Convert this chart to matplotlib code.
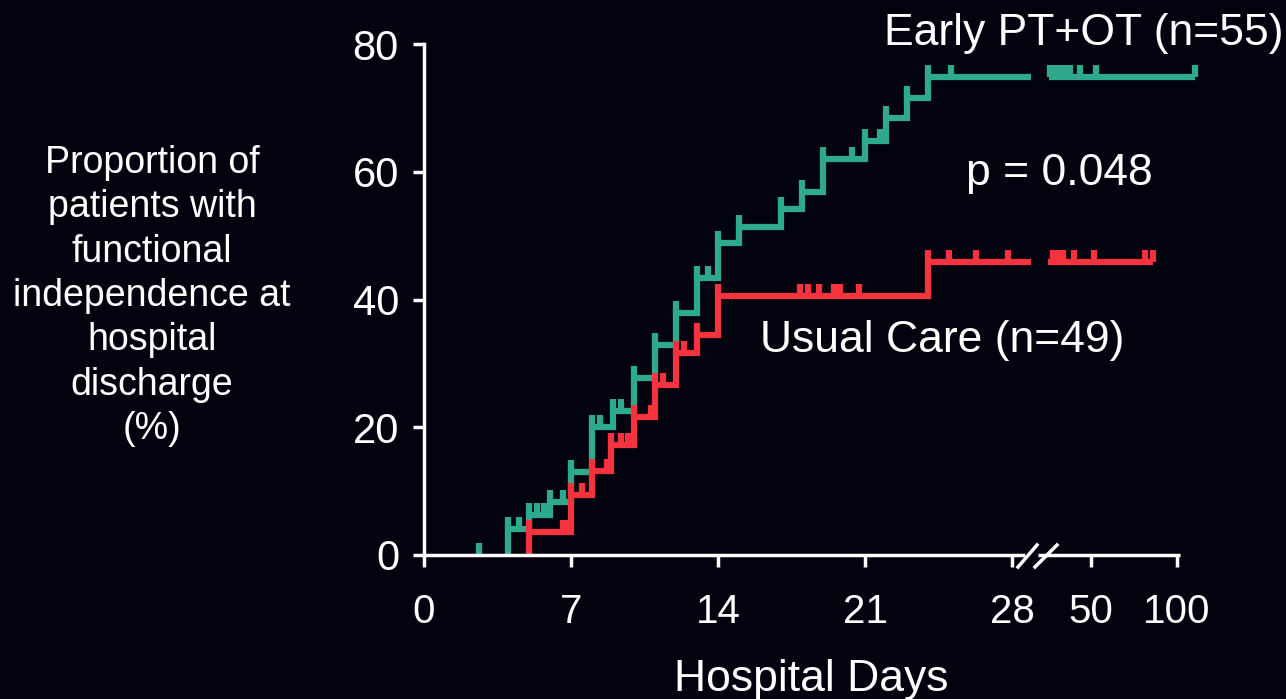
import numpy as np
import matplotlib
matplotlib.use("Agg")
import matplotlib.pyplot as plt
from matplotlib.path import Path

plt.rcParams['font.family'] = ['Liberation Sans', 'DejaVu Sans']

# Early PT+OT: days with events and cumulative % independent
early_days = [4, 5, 6, 7, 8, 9, 10, 11, 12, 13, 14, 15, 17, 18, 19, 21, 22, 23, 24]
early_pct = [4.0, 6.2, 8.3, 13.0, 20.0, 22.5, 27.7, 32.8, 37.9, 43.3, 48.8, 51.3,
             54.2, 56.9, 62.0, 64.8, 68.4, 71.5, 74.8]
early_censor = [2.6, 4.5, 5.4, 5.7, 6.6, 8.4, 9.4, 13.5, 20.4, 21.7, 25.1]
early_late_start = 30.6
early_censor_late = [31.1, 32.9, 34.8, 36.6, 38.4, 40.3, 45.0, 52.9, 110.4]

# Usual care
usual_days = [5, 7, 8, 8.9, 10, 11, 12, 13, 14, 24]
usual_pct = [3.6, 9.4, 13.1, 17.2, 21.6, 26.6, 31.7, 34.5, 40.6, 45.8]
usual_censor = [6.6, 6.8, 7.5, 8.7, 9.4, 9.7, 10.8, 11.4, 12.4, 17.9, 18.3, 18.8,
                19.5, 19.8, 20.7, 25.0, 26.3, 27.8]
usual_late_start = 30.0
usual_censor_late = [32.4, 34.8, 37.1, 42.1, 51.7, 81.3, 86.0]

last_day_before_break = 28.9

x_ticks = [0, 7, 14, 21, 28, 50, 100]
y_ticks = [0, 20, 40, 60, 80]

TEAL = '#2fa98c'
RED = '#f4333f'
BG = '#03020f'

# broken x axis: linear up to 29 days, compressed after the break
day_knots = [-50, 29, 30, 50, 100, 1000]
pos_knots = [-50, 29, 29.7, 31.76, 35.86, 35.86 + 900 * 0.082]


def fwd(d):
    return np.interp(d, day_knots, pos_knots)


def inv(p):
    return np.interp(p, pos_knots, day_knots)


W, H = 1286, 699
fig = plt.figure(figsize=(W / 100, H / 100), dpi=100, facecolor=BG)
ax = fig.add_axes([424 / W, (H - 555) / H, 798 / W, 511 / H])
ax.set_facecolor(BG)
ax.set_xscale('function', functions=(fwd, inv))
ax.set_xlim(0, inv(38))
ax.set_ylim(0, 80)

tick = Path([(0, 0), (0, 1)], [Path.MOVETO, Path.LINETO])
lw = 4.5


def level_at(days, pct, t):
    idx = np.searchsorted(days, t, side='right') - 1
    return np.where(idx >= 0, np.asarray(pct)[np.maximum(idx, 0)], 0.0)


def draw_curve(days, pct, censor, late_start, censor_late, color):
    # start at the first event so nothing is drawn along the x axis
    xs = [days[0]] + list(days) + [last_day_before_break]
    ys = [0] + list(pct) + [pct[-1]]
    ax.step(xs, ys, where='post', color=color, lw=lw,
            solid_joinstyle='miter', solid_capstyle='butt', zorder=2)
    # vertical jumps poke slightly above each step
    ax.plot(days, pct, ls='none', marker=tick, markersize=18,
            markeredgewidth=lw, color=color, zorder=2)
    ax.plot(censor, level_at(days, pct, censor), ls='none', marker=tick,
            markersize=18, markeredgewidth=lw, color=color, zorder=2)
    ax.plot([late_start, censor_late[-1]], [pct[-1], pct[-1]], color=color,
            lw=lw, solid_capstyle='butt', zorder=2, clip_on=False)
    ax.plot(censor_late, [pct[-1]] * len(censor_late), ls='none', marker=tick,
            markersize=18, markeredgewidth=lw, color=color, zorder=2,
            clip_on=False)


draw_curve(early_days, early_pct, early_censor, early_late_start,
           early_censor_late, TEAL)
draw_curve(usual_days, usual_pct, usual_censor, usual_late_start,
           usual_censor_late, RED)

# axes styling
for s in ['top', 'right']:
    ax.spines[s].set_visible(False)
for s in ['left', 'bottom']:
    ax.spines[s].set_color('white')
    ax.spines[s].set_linewidth(2.5)
    ax.spines[s].set_zorder(3)
ax.spines['bottom'].set_bounds(0, 28.52)
ax.plot([29.34, 101.7], [0, 0], color='white', lw=2.5, clip_on=False,
        solid_capstyle='butt', zorder=3)

ax.set_xticks(x_ticks)
ax.set_xticklabels([str(t) for t in x_ticks])
ax.set_yticks(y_ticks)
ax.tick_params(axis='x', colors='white', length=8.6, width=2.5, pad=19,
               labelsize=29)
ax.tick_params(axis='y', colors='white', length=8, width=2.5, pad=10,
               labelsize=30)
ax.minorticks_off()

# break marks
for x0, x1 in [(1018, 1037), (1035, 1057)]:
    fig.add_artist(plt.Line2D([x0 / W, x1 / W], [1 - 567 / H, 1 - 545 / H],
                              color='white', lw=2.5,
                              transform=fig.transFigure))

fig.text(884 / W, 1 - 33 / H, 'Early PT+OT (n=55)', color='white',
         fontsize=32, ha='left', va='center')
fig.text(966 / W, 1 - 173 / H, 'p = 0.048', color='white', fontsize=32,
         ha='left', va='center')
fig.text(760 / W, 1 - 341 / H, 'Usual Care (n=49)', color='white',
         fontsize=32, ha='left', va='center')
fig.text(811 / W, 1 - 691 / H, 'Hospital Days', color='white', fontsize=32,
         ha='center', va='baseline')
fig.text(152 / W, 1 - 296 / H,
         'Proportion of\npatients with\nfunctional\nindependence at\n'
         'hospital\ndischarge\n(%)',
         color='white', fontsize=27, ha='center', va='center',
         multialignment='center', linespacing=1.3)

fig.savefig('out.png', dpi=100, facecolor=BG)
